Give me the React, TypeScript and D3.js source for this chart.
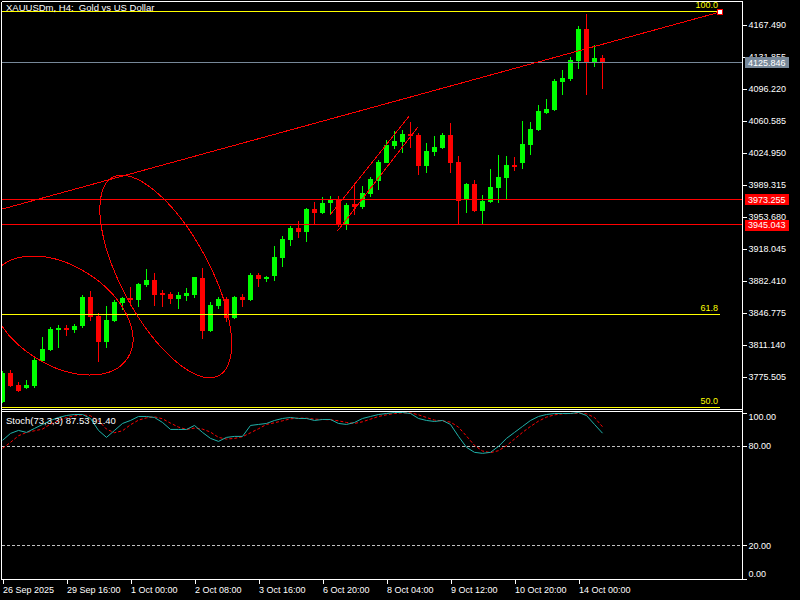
import React, { useEffect, useRef } from 'react';
import * as d3 from 'd3';

const WIDTH = 800;
const HEIGHT = 600;
const FRAME = { left: 2, right: 742, top: 2, mainBottom: 409, stochTop: 411, bottom: 579 };
const FONT = '"Liberation Sans", Arial, sans-serif';

// XAUUSDm H4 bars, oldest first
const opens = [
  3748.0, 3779.6, 3766.6, 3763.6, 3765.5, 3793.3, 3805.6, 3827.9, 3830.4, 3827.9,
  3832.3, 3864.6, 3843.8, 3814.8, 3837.9, 3858.3, 3863.8, 3861.3, 3878.0, 3883.5,
  3868.7, 3867.9, 3862.4, 3866.0, 3866.8, 3886.1, 3826.7, 3854.9, 3862.4, 3841.2,
  3864.6, 3861.3, 3889.1, 3884.6, 3888.0, 3908.4, 3928.4, 3941.4, 3937.0, 3962.6,
  3958.5, 3968.9, 3973.4, 3944.8, 3967.8, 3964.5, 3979.0, 3993.8, 4014.2, 4033.1,
  4037.2, 4046.4, 4045.3, 4010.8, 4026.4, 4030.2, 4045.0, 4015.3, 3972.6, 3990.4,
  3960.7, 3970.7, 3986.5, 3997.4, 4011.6, 4014.2, 4033.9, 4050.6, 4069.8, 4072.8,
  4104.4, 4107.4, 4127.4, 4163.0, 4125.5, 4130.7,
];
const highs = [
  3782.2, 3783.3, 3770.3, 3772.2, 3797.4, 3819.7, 3830.9, 3833.4, 3833.4, 3834.5,
  3866.8, 3871.3, 3847.1, 3854.6, 3861.3, 3864.6, 3875.4, 3880.5, 3895.8, 3891.0,
  3872.4, 3870.2, 3869.8, 3875.0, 3887.2, 3896.9, 3858.7, 3864.9, 3864.9, 3866.0,
  3867.9, 3891.3, 3891.3, 3888.0, 3921.4, 3932.5, 3943.7, 3949.2, 3964.0, 3970.4,
  3975.6, 3977.1, 3977.1, 3969.6, 3991.9, 3988.2, 3998.6, 4017.2, 4039.4, 4049.5,
  4050.6, 4059.5, 4047.6, 4036.4, 4043.9, 4047.6, 4058.7, 4021.6, 3991.5, 3994.9,
  3978.2, 4007.1, 4022.7, 4021.6, 4020.5, 4060.6, 4059.5, 4078.4, 4085.1, 4107.4,
  4117.4, 4131.9, 4166.4, 4179.7, 4145.2, 4134.1,
];
const lows = [
  3746.6, 3764.0, 3759.1, 3762.5, 3763.6, 3792.2, 3804.5, 3808.1, 3821.2, 3824.8,
  3830.4, 3837.9, 3792.5, 3808.1, 3837.1, 3850.1, 3854.9, 3853.8, 3876.1, 3854.9,
  3853.8, 3856.8, 3851.2, 3860.5, 3863.8, 3817.8, 3826.0, 3851.2, 3837.1, 3840.1,
  3853.8, 3860.5, 3876.1, 3881.6, 3882.8, 3898.3, 3921.4, 3930.6, 3926.2, 3944.8,
  3956.7, 3955.9, 3942.9, 3939.2, 3955.9, 3962.9, 3976.3, 3983.8, 4013.5, 4029.4,
  4025.3, 4030.9, 4000.5, 4002.3, 4021.9, 4029.1, 4003.0, 3944.4, 3957.8, 3959.3,
  3946.2, 3969.6, 3969.6, 3973.7, 4004.9, 4007.5, 4022.7, 4049.8, 4068.7, 4071.7,
  4089.5, 4105.1, 4118.5, 4089.5, 4121.1, 4096.2,
];
const closes = [
  3779.6, 3765.8, 3760.3, 3766.6, 3794.4, 3806.7, 3829.0, 3830.4, 3827.9, 3832.3,
  3864.6, 3842.7, 3814.8, 3839.0, 3859.4, 3863.5, 3861.6, 3879.4, 3883.5, 3866.8,
  3866.8, 3862.0, 3866.8, 3869.4, 3886.5, 3826.7, 3855.7, 3862.4, 3841.5, 3864.6,
  3861.6, 3889.1, 3884.6, 3886.9, 3908.8, 3929.2, 3941.4, 3937.3, 3962.6, 3958.5,
  3969.3, 3973.4, 3944.4, 3967.0, 3964.5, 3980.7, 3995.7, 4015.3, 4033.9, 4038.3,
  4046.4, 4044.2, 4010.8, 4027.2, 4032.0, 4045.0, 4014.2, 3971.8, 3990.4, 3960.7,
  3971.5, 3986.8, 3997.9, 4011.6, 4009.7, 4035.0, 4051.7, 4071.7, 4074.0, 4105.1,
  4108.5, 4128.5, 4163.0, 4125.5, 4130.7, 4125.846,
];

// Stochastic (73,3,3): main and signal
const stochK = [
  83.2, 87.4, 89.2, 88.0, 90.4, 92.8, 95.2, 97.0, 98.2, 98.8,
  98.8, 96.4, 89.2, 85.0, 89.2, 93.4, 95.2, 97.6, 97.6, 97.0,
  94.0, 89.8, 89.8, 89.8, 92.2, 88.0, 84.4, 82.6, 85.0, 85.6,
  85.6, 92.2, 92.8, 93.4, 95.2, 96.4, 97.0, 96.4, 96.4, 95.2,
  95.8, 95.8, 93.4, 92.8, 94.0, 96.4, 97.6, 98.8, 99.4, 100.0,
  100.0, 99.4, 96.4, 95.2, 94.6, 95.2, 92.8, 85.6, 79.0, 76.0,
  75.4, 76.0, 79.6, 84.4, 88.0, 91.6, 95.2, 97.6, 98.8, 99.4,
  99.4, 99.4, 100.0, 98.2, 92.8, 87.53,
];
const stochD = [
  78.4, 82.0, 86.0, 88.0, 89.0, 90.0, 93.0, 95.0, 97.0, 98.0,
  98.6, 98.0, 95.0, 90.0, 87.8, 89.0, 92.6, 95.4, 96.8, 97.4,
  96.2, 93.6, 91.2, 89.8, 90.6, 90.0, 88.2, 85.0, 84.0, 84.4,
  85.4, 87.8, 90.2, 92.8, 93.8, 95.0, 96.2, 96.6, 96.6, 96.0,
  95.8, 95.6, 95.0, 94.0, 93.4, 94.4, 96.0, 97.6, 98.6, 99.4,
  99.8, 99.8, 98.6, 97.0, 95.4, 95.0, 94.2, 91.2, 85.8, 80.2,
  76.8, 75.8, 77.0, 80.0, 84.0, 88.0, 91.6, 94.8, 97.2, 98.6,
  99.2, 99.4, 99.6, 99.2, 97.0, 91.40,
];

const priceTicks = [
  4167.49, 4131.855, 4096.22, 4060.585, 4024.95, 3989.315,
  3953.68, 3918.045, 3882.41, 3846.775, 3811.14, 3775.505,
];
const stochTicks = [100, 80, 20, 0];
const stochLevels = [80, 20];
const timeTickBars = [0, 8, 16, 24, 32, 40, 48, 56, 64, 72];
const timeLabels = [
  '26 Sep 2025', '29 Sep 16:00', '1 Oct 00:00', '2 Oct 08:00', '3 Oct 16:00',
  '6 Oct 20:00', '8 Oct 04:00', '9 Oct 12:00', '10 Oct 20:00', '14 Oct 00:00',
];

const bidPrice = 4125.846;
const alertLevels = [3973.255, 3945.043];

// fibonacci retracement
const fibHigh = 4181.97;
const fibLow = 3301.6;
const fibLevels = [100, 61.8, 50];
const fibEndBar = 89.7;

// drawn objects (bar index, price)
const trendLine = [{ bar: 0, price: 3962.6 }, { bar: 89.7, price: 4181.97 }];
const channelLines = [
  [{ bar: 40.94, price: 3955.9 }, { bar: 50.85, price: 4066.2 }],
  [{ bar: 41.9, price: 3938.4 }, { bar: 51.9, price: 4053.6 }],
];
const ellipses = [
  { from: { bar: -0.91, price: 3891.2 }, to: { bar: 15.66, price: 3796.8 }, ratio: 0.63 },
  { from: { bar: 13.76, price: 3997.9 }, to: { bar: 27.05, price: 3777.0 }, ratio: 0.393 },
];

const PRICE_MIN = 3741.0;
const PRICE_MAX = 4193.1;

export default function App() {
  const ref = useRef<SVGSVGElement>(null);

  useEffect(() => {
    if (!ref.current) return;
    const svg = d3.select(ref.current);
    svg.selectAll('*').remove();

    const x = d3.scaleLinear().domain([0, 75]).range([2.5, 602.5]);
    const y = d3.scaleLinear().domain([PRICE_MIN, PRICE_MAX]).range([408, 2]);
    const ys = d3.scaleLinear().domain([0, 100]).range([578.5, 412.5]);

    svg.append('rect').attr('width', WIDTH).attr('height', HEIGHT).attr('fill', '#000');

    const defs = svg.append('defs');
    defs.append('clipPath').attr('id', 'main-clip').append('rect')
      .attr('x', FRAME.left).attr('y', FRAME.top)
      .attr('width', FRAME.right - FRAME.left).attr('height', FRAME.mainBottom - FRAME.top);
    defs.append('clipPath').attr('id', 'stoch-clip').append('rect')
      .attr('x', FRAME.left).attr('y', FRAME.stochTop + 1)
      .attr('width', FRAME.right - FRAME.left).attr('height', FRAME.bottom - FRAME.stochTop - 1);

    const main = svg.append('g').attr('clip-path', 'url(#main-clip)').attr('shape-rendering', 'crispEdges');

    // candles
    const bars = d3.range(opens.length);
    const candle = main.selectAll('g.candle').data(bars).enter().append('g')
      .attr('class', 'candle')
      .attr('fill', (i) => (closes[i] >= opens[i] ? '#00FF00' : '#FF0000'))
      .attr('stroke', (i) => (closes[i] >= opens[i] ? '#00FF00' : '#FF0000'));
    candle.append('line')
      .attr('x1', (i) => x(i)).attr('x2', (i) => x(i))
      .attr('y1', (i) => y(highs[i])).attr('y2', (i) => y(lows[i]));
    candle.append('rect')
      .attr('stroke', 'none')
      .attr('x', (i) => x(i) - 2.5)
      .attr('width', 5)
      .attr('y', (i) => y(Math.max(opens[i], closes[i])))
      .attr('height', (i) => Math.max(1, Math.abs(y(opens[i]) - y(closes[i]))));

    // horizontal lines
    main.append('line')
      .attr('x1', FRAME.left).attr('x2', FRAME.right)
      .attr('y1', y(bidPrice)).attr('y2', y(bidPrice))
      .attr('stroke', '#778899');
    main.selectAll('line.alert').data(alertLevels).enter().append('line')
      .attr('class', 'alert')
      .attr('x1', FRAME.left).attr('x2', FRAME.right)
      .attr('y1', (d) => y(d)).attr('y2', (d) => y(d))
      .attr('stroke', '#FF0000');

    // fibonacci
    const fibPrice = (lvl: number) => fibLow + (fibHigh - fibLow) * lvl / 100;
    main.selectAll('line.fib').data(fibLevels).enter().append('line')
      .attr('class', 'fib')
      .attr('x1', FRAME.left).attr('x2', x(fibEndBar))
      .attr('y1', (d) => y(fibPrice(d))).attr('y2', (d) => y(fibPrice(d)))
      .attr('stroke', '#FFFF00');
    main.selectAll('text.fib').data(fibLevels).enter().append('text')
      .attr('class', 'fib')
      .attr('x', x(fibEndBar) - 2)
      .attr('y', (d) => y(fibPrice(d)) - 3.5)
      .attr('text-anchor', 'end')
      .attr('fill', '#FFFF00')
      .attr('font-family', FONT).attr('font-size', 9)
      .text((d) => d.toFixed(1));

    // trend + channel lines
    const seg = d3.line<{ bar: number; price: number }>().x((d) => x(d.bar)).y((d) => y(d.price));
    main.append('path').attr('d', seg(trendLine)).attr('fill', 'none').attr('stroke', '#FF0000');
    channelLines.forEach((c) => {
      main.append('path').attr('d', seg(c)).attr('fill', 'none').attr('stroke', '#FF0000');
    });

    // ellipses
    ellipses.forEach((e) => {
      const x1 = x(e.from.bar), y1 = y(e.from.price);
      const x2 = x(e.to.bar), y2 = y(e.to.price);
      const a = Math.hypot(x2 - x1, y2 - y1) / 2;
      const ang = (Math.atan2(y2 - y1, x2 - x1) * 180) / Math.PI;
      main.append('ellipse')
        .attr('transform', `translate(${(x1 + x2) / 2},${(y1 + y2) / 2}) rotate(${ang})`)
        .attr('rx', a).attr('ry', a * e.ratio)
        .attr('fill', 'none').attr('stroke', '#FF0000');
    });

    // selected anchor of the trend line
    const end = trendLine[1];
    svg.append('rect')
      .attr('x', x(end.bar) - 2.5).attr('y', y(end.price) - 2.5)
      .attr('width', 5).attr('height', 5)
      .attr('fill', '#fff').attr('stroke', '#FF0000').attr('shape-rendering', 'crispEdges');

    // stochastic pane
    const stoch = svg.append('g').attr('clip-path', 'url(#stoch-clip)');
    stoch.selectAll('line.lvl').data(stochLevels).enter().append('line')
      .attr('class', 'lvl')
      .attr('x1', FRAME.left).attr('x2', FRAME.right)
      .attr('y1', (d) => Math.round(ys(d)) + 0.5).attr('y2', (d) => Math.round(ys(d)) + 0.5)
      .attr('stroke', '#C0C0C0').attr('stroke-dasharray', '3,2');
    const kLine = d3.line<number>().x((_, i) => x(i)).y((d) => ys(d));
    stoch.append('path').attr('d', kLine(stochD)).attr('fill', 'none')
      .attr('stroke', '#FF0000').attr('stroke-dasharray', '3,2');
    stoch.append('path').attr('d', kLine(stochK)).attr('fill', 'none')
      .attr('stroke', '#20B2AA');

    // frame
    const frame = svg.append('g').attr('stroke', '#fff').attr('shape-rendering', 'crispEdges');
    const frameLines = [
      [1.5, 1.5, 1.5, FRAME.bottom + 0.5],
      [1.5, 1.5, FRAME.right + 0.5, 1.5],
      [1.5, FRAME.mainBottom + 0.5, FRAME.right + 0.5, FRAME.mainBottom + 0.5],
      [1.5, FRAME.stochTop + 0.5, FRAME.right + 0.5, FRAME.stochTop + 0.5],
      [1.5, FRAME.bottom + 0.5, FRAME.right + 0.5, FRAME.bottom + 0.5],
      [FRAME.right + 0.5, 1.5, FRAME.right + 0.5, FRAME.bottom + 0.5],
    ];
    frameLines.forEach(([a, b, c, d]) => {
      frame.append('line').attr('x1', a).attr('y1', b).attr('x2', c).attr('y2', d);
    });

    // axes
    const styleAxis = (g: d3.Selection<SVGGElement, unknown, null, undefined>) => {
      g.attr('font-family', FONT).attr('font-size', 9).attr('color', '#fff');
      g.select('.domain').remove();
      g.selectAll('line').attr('shape-rendering', 'crispEdges');
    };

    const yAxis = d3.axisRight(y).tickValues(priceTicks).tickSize(4).tickPadding(2)
      .tickFormat((d) => (d as number).toFixed(3));
    svg.append('g').attr('transform', `translate(${FRAME.right + 0.5},0)`).call(yAxis).call(styleAxis);

    const sAxis = d3.axisRight(ys).tickValues(stochTicks).tickSize(4).tickPadding(2)
      .tickFormat((d) => (d as number).toFixed(2));
    const sG = svg.append('g').attr('transform', `translate(${FRAME.right + 0.5},0)`).call(sAxis).call(styleAxis);
    sG.selectAll<SVGTextElement, number>('text')
      .attr('transform', (d) => (d === 100 ? 'translate(0,4)' : d === 0 ? 'translate(0,-5)' : null));

    const xAxis = d3.axisBottom(x).tickValues(timeTickBars).tickSize(4).tickPadding(3)
      .tickFormat((_, i) => timeLabels[i]);
    const xG = svg.append('g').attr('transform', `translate(0,${FRAME.bottom + 0.5})`).call(xAxis).call(styleAxis);
    xG.selectAll('text').attr('text-anchor', 'start').attr('x', 0);

    // price labels on the axis
    const tag = (price: number, fill: string) => {
      const g = svg.append('g');
      g.append('rect')
        .attr('x', 745).attr('y', Math.round(y(price)) - 5)
        .attr('width', 44).attr('height', 11)
        .attr('fill', fill).attr('shape-rendering', 'crispEdges');
      g.append('text')
        .attr('x', 748).attr('y', y(price)).attr('dy', '0.35em')
        .attr('fill', '#fff').attr('font-family', FONT).attr('font-size', 9)
        .text(price.toFixed(3));
    };
    tag(bidPrice, '#778899');
    alertLevels.forEach((p) => tag(p, '#FF0000'));

    // titles
    svg.append('text')
      .attr('x', 6).attr('y', 11)
      .attr('fill', '#fff').attr('font-family', FONT).attr('font-size', 9.5)
      .style('white-space', 'pre')
      .text('XAUUSDm, H4:  Gold vs US Dollar');
    svg.append('text')
      .attr('x', 6).attr('y', 424)
      .attr('fill', '#fff').attr('font-family', FONT).attr('font-size', 9.5)
      .text(`Stoch(73,3,3) ${stochK[stochK.length - 1].toFixed(2)} ${stochD[stochD.length - 1].toFixed(2)}`);
  }, []);

  return (
    <svg
      ref={ref}
      width={WIDTH}
      height={HEIGHT}
      style={{ position: 'absolute', left: 0, top: 0, display: 'block' }}
    />
  );
}
